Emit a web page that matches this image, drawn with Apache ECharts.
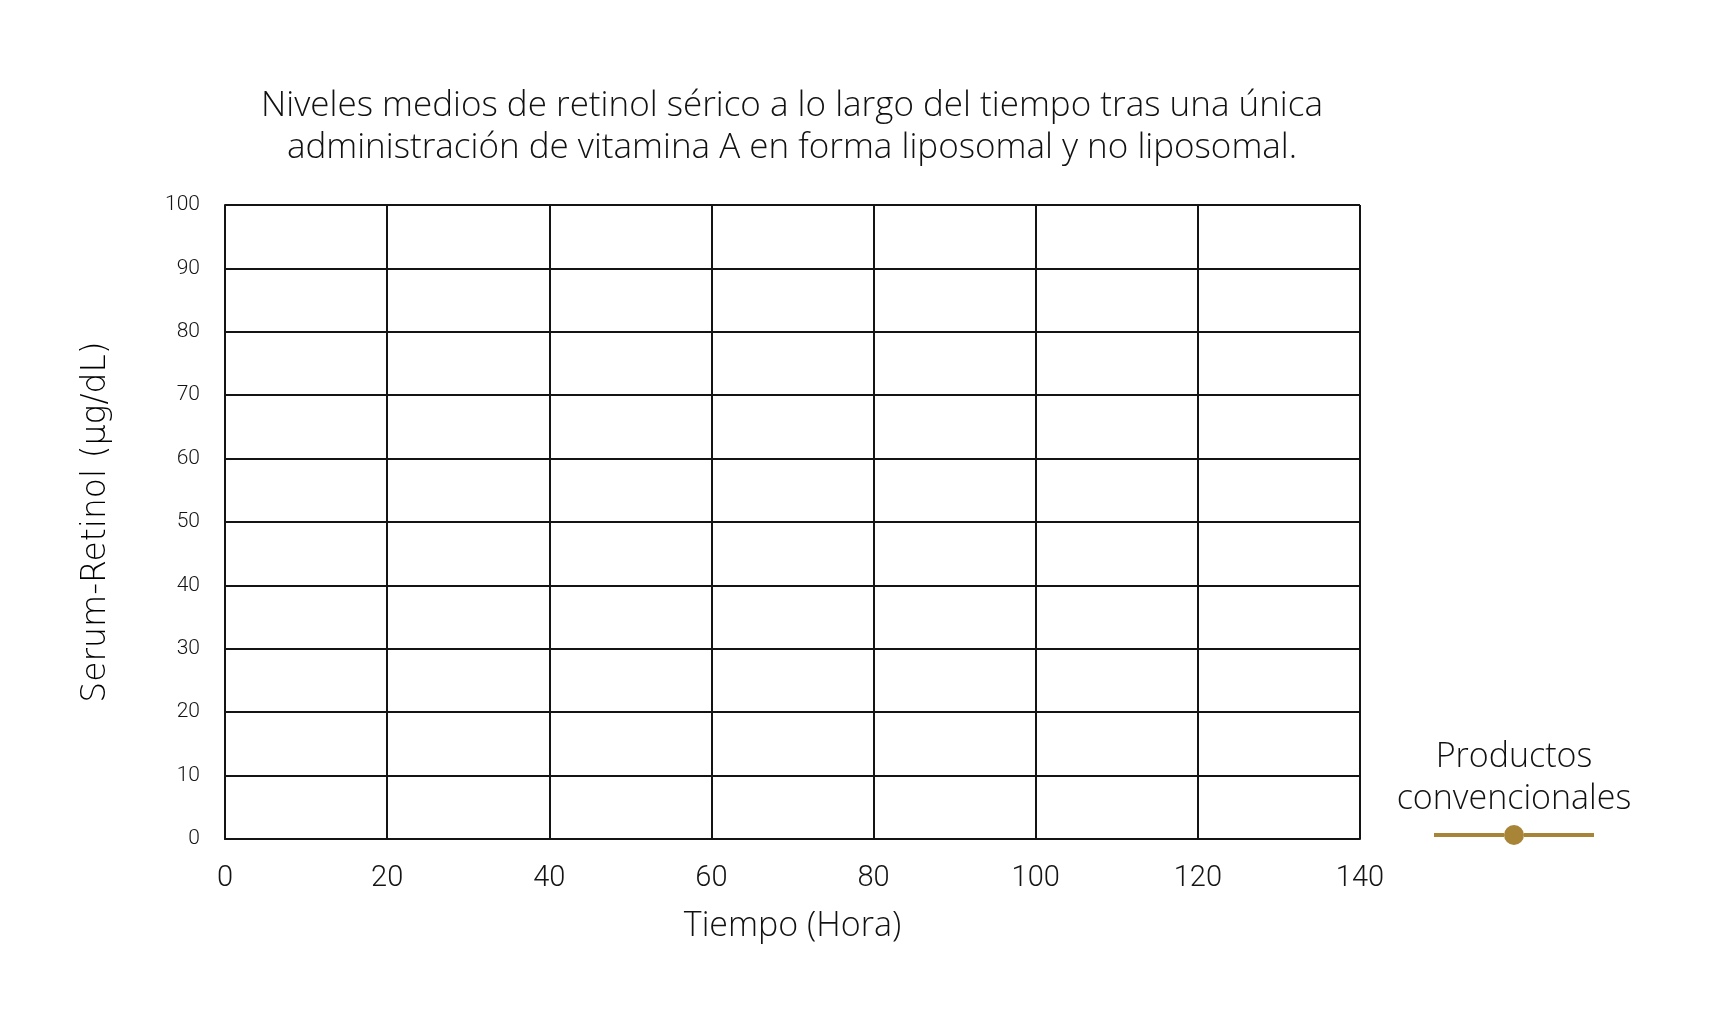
<!DOCTYPE html>
<html>
<head>
<meta charset="utf-8">
<script src="https://cdn.jsdelivr.net/npm/echarts@6/dist/echarts.min.js"></script>
<style>html,body{margin:0;padding:0;background:#fff;}#c{width:1719px;height:1029px;}</style>
</head>
<body>
<div id="c"></div>
<script>
// ---- data ----
const titleLines = ['Niveles medios de retinol sérico a lo largo del tiempo tras una única', 'administración de vitamina A en forma liposomal y no liposomal.'];
const xAxisName = 'Tiempo (Hora)';
const yAxisName = 'Serum-Retinol (µg/dL)';
const xTicks = [0, 20, 40, 60, 80, 100, 120, 140];
const yTicks = [0, 10, 20, 30, 40, 50, 60, 70, 80, 90, 100];
const seriesName = 'Productos convencionales';
const seriesLabel = 'Productos\nconvencionales';
const seriesValues = []; // no data points are drawn in the reference

const FONT = 'Roboto';
const TXT = 'Open Sans';
const WIDE = 'DejaVu Sans';
const INK = '#141414';
const GOLD = '#A88437';

const chart = echarts.init(document.getElementById('c'), null, {renderer: 'canvas'});
chart.setOption({
  animation: false,
  backgroundColor: '#fff',
  title: [{
    text: titleLines.join('\n'),
    left: 792, top: 85, padding: 0, textAlign: 'center',
    textStyle: {fontFamily: TXT, fontWeight: 300, fontSize: 35, lineHeight: 42, color: '#111'}
  }, {
    text: seriesLabel,
    left: 1514, top: 736, padding: 0, textAlign: 'center',
    textStyle: {fontFamily: TXT, fontWeight: 300, fontSize: 34, lineHeight: 42, color: '#111'}
  }],
  legend: {
    left: 1434, top: 825, padding: 0,
    itemWidth: 160, itemHeight: 20,
    icon: 'path://M0 8H70V12H0Z M90 8H160V12H90Z M70 10A10 10 0 1 1 90 10A10 10 0 1 1 70 10Z',
    formatter: () => '',
    textStyle: {fontSize: 1},
    data: [seriesName]
  },
  grid: {left: 225, right: 359, top: 205, bottom: 190, show: false},
  xAxis: {
    type: 'value', min: xTicks[0], max: xTicks[xTicks.length - 1], interval: xTicks[1] - xTicks[0],
    name: xAxisName, nameLocation: 'middle', nameGap: 71,
    nameTextStyle: {fontFamily: TXT, fontWeight: 300, fontSize: 34, lineHeight: 32, color: '#111'},
    axisLine: {show: true, lineStyle: {color: INK, width: 2}},
    axisTick: {show: false},
    axisLabel: {margin: 25, fontFamily: FONT, fontWeight: 300, fontSize: 29, lineHeight: 30, color: INK},
    splitLine: {show: true, lineStyle: {color: INK, width: 2}}
  },
  yAxis: {
    type: 'value', min: yTicks[0], max: yTicks[yTicks.length - 1], interval: yTicks[1] - yTicks[0],
    name: yAxisName, nameLocation: 'middle', nameGap: 112,
    nameTextStyle: {fontFamily: WIDE, fontWeight: 300, fontSize: 33, lineHeight: 34, color: '#000'},
    axisLine: {show: true, lineStyle: {color: INK, width: 2}},
    axisTick: {show: false},
    axisLabel: {margin: 25, fontFamily: FONT, fontWeight: 300, fontSize: 21, color: INK},
    splitLine: {show: true, lineStyle: {color: INK, width: 2}}
  },
  series: [{
    name: seriesName, type: 'line', data: seriesValues,
    color: GOLD, symbol: 'circle', symbolSize: 20,
    lineStyle: {color: GOLD, width: 4}, itemStyle: {color: GOLD}
  }]
});
</script>
</body>
</html>
